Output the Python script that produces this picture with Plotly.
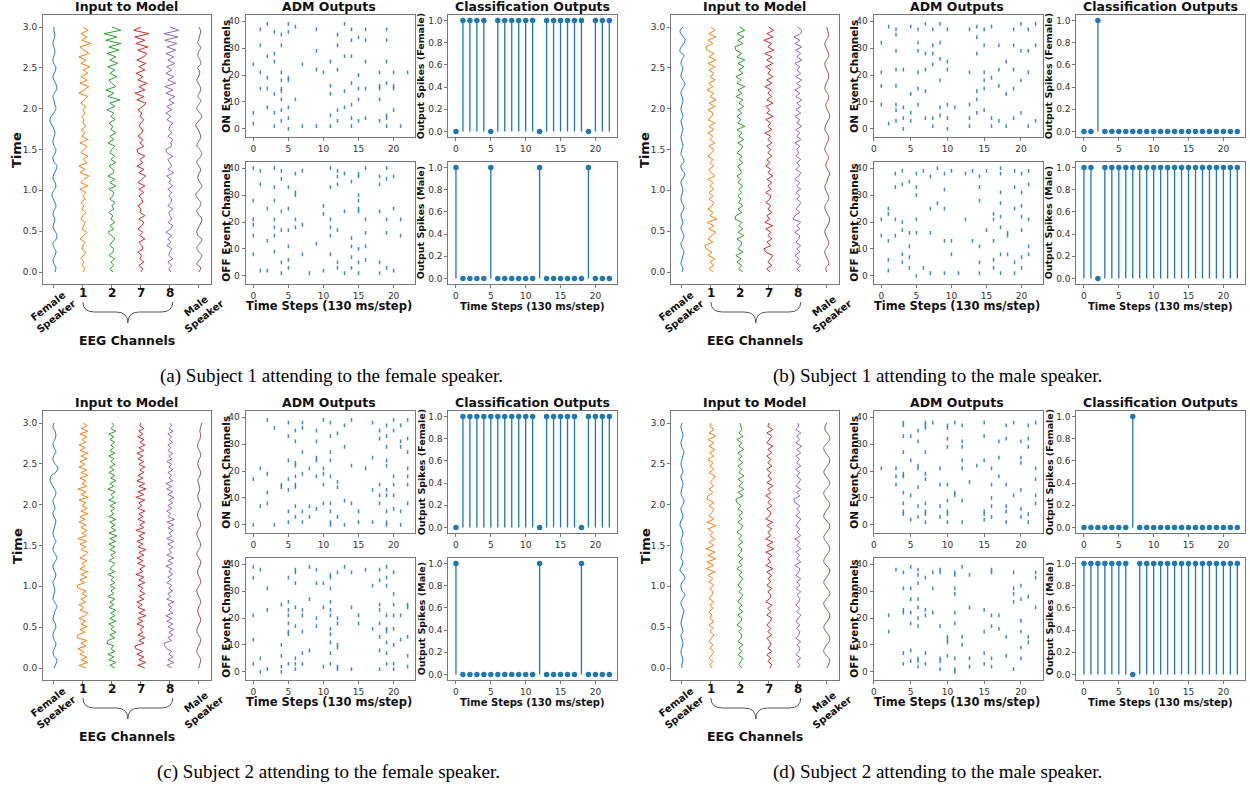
import numpy as np
import plotly.graph_objects as go

W, H = 1250, 788

# ---------------- DATA ----------------
# Input to model: horizontal deflection of each trace (pixels), evenly sampled over 0..3 s
input_labels = ["Female<br>Speaker", "1", "2", "7", "8", "Male<br>Speaker"]
input_colors = ["#1f77b4", "#ff7f0e", "#2ca02c", "#d62728", "#9467bd", "#8c564b"]

a_female = [1,2,0,-1,1,2,0,-1,2,3,1,-1,0,1,-1,0,2,1,-1,-2,0,2,1,-1,0,2,3,0,-1,1,2,0,-1,0,1,0,-2,-4,-3,0,2,1,0,-1,1,3,2,0,-1,1,2,0,-1,0,1,0,-1,0,1,0,0]
a_ch1 = [0,2,-1,1,-2,1,3,-1,0,2,-3,1, 4,-1,1,2,-2,0,3,-1,1,-2,2,0, 3,-3,5,-2,1,6,-3,2,-4,4,0,5,-2,
         1,4,-3,5,-1,2,-2,3,0,1,-1,2, 0,3,-2,2,5,-4,1,6,-3,4,-2,5,0, 7,-2,3,-4,6,1,-3,8,-1,4,-2,5,0]
a_ch2 = [1,-2,2,-1,3,-3,1,2,-2,0,3,-1, -4,2,-2,3,-1,1,-3,2,0,3,-2,1, 2,-3,4,-2,3,-4,2,1,-3,4,-1,3,-2,
         0,3,-4,2,-2,4,-1,1,-3,3,-1,2, -5,3,-2,8,-4,2,-6,4,0,-3,5,-2,3, -4,6,-2,4,-5,7,-3,9,-6,5,-8,9,0]
a_ch7 = [0,2,-2,3,-1,1,-3,2,1,-2,4,-1, 2,-3,1,3,-2,4,-1,0,-3,2,1,-2, 3,-2,4,-3,1,5,-2,3,-4,2,-1,4,-3,
         -4,3,-1,2,-3,1,2,-2,0,3,-1,1, -3,2,5,-4,3,-6,4,-2,6,-3,2,-5,4, -2,5,-4,3,6,-3,7,-5,4,-6,8,-7,0]
a_ch8 = [1,-1,2,-2,3,-1,0,2,-3,1,-2,2, -4,1,3,-2,2,0,-1,3,-2,1,2,-1, 2,-2,3,-1,1,-3,4,-2,2,0,-2,3,-3,
         -4,2,1,3,-2,2,-1,0,3,-3,1,-4, 2,-3,4,-1,5,-4,3,-5,6,-2,4,-4,2, -3,5,-2,4,-4,6,-3,7,-5,8,-6,9,0]
a_male = [0,2,-2,1,3,0,-2,1,3,-1,-2,0,2,3,0,-2,1,2,-1,-3,0,3,1,-1,0,2,0,-2,1,3,1,-2,0,2,1,-1,-3,0,3,1,-2,0,2,-1,1,2,0,-2,0,1,-1,2,1,-1,0,2,-1,0,1,2,0]

b_female = [0,1,-1,0,1,2,0,-1,1,2,0,-1,1,0,-1,1,2,0,-1,0,1,0,-1,1,3,0,-1,2,1,-1,0,1,0,-1,0,1,0,-1,1,0,-1,0,1,0,-1,1,3,1,-1,0,1,-1,0,2,-2,-1,2,3,0,-2,1]
b_ch1 = [2,-2,3,-1,4,-3,1,-5,-6,2,-3,1, 5,-2,3,-4,6,-1,2,-3,1,3,-2,2, -2,3,-1,2,-3,4,0,-2,3,-1,2,-3,1,
         3,-2,4,-1,2,-3,3,-2,4,-3,1,2, -3,4,-2,5,-1,3,-4,2,-2,4,-1,3,-2, 4,-3,5,-2,3,-4,-5,2,-3,5,-2,4,0]
b_ch2 = [3,-1,2,-3,1,-4,3,-2,1,2,-3,4, -2,3,-1,2,-5,-4,2,-2,3,-1,1,-2, 2,-1,3,-2,1,-3,2,0,-2,3,-1,2,-3,
         1,3,-2,4,-1,2,-3,5,-2,1,-3,2, -2,4,-1,3,-4,2,-2,5,-3,1,-4,3,-1, 4,-2,5,-3,2,-4,-5,3,-2,4,-3,5,0]
b_ch7 = [1,-2,3,-1,2,4,-3,-5,2,-2,3,-1, 2,-3,4,-4,1,-2,3,-1,2,-3,1,2, -3,2,-1,3,-2,4,-1,2,-3,1,-2,3,-1,
         2,-2,3,-1,2,-4,3,-1,2,-3,4,-2, 1,-3,4,-2,3,-1,2,-4,3,-2,4,-1,2, -3,4,-2,3,-4,5,-1,3,-5,4,-2,5,0]
b_ch8 = [2,-1,3,-2,1,-3,2,-1,3,-2,1,2, -3,2,-1,3,-5,-3,2,-2,1,3,-1,2, -2,3,-1,2,-3,1,3,-2,2,-1,3,-2,1,
         -1,2,-3,3,-1,2,-2,4,-1,2,-3,3, -2,3,-1,4,-2,2,-3,3,-1,4,-2,3,-1, 2,-3,4,-1,3,-2,4,-3,2,-4,3,4,0]
b_male = [0,-1,2,1,-1,-2,0,2,1,-1,-2,0,2,3,1,-1,-2,0,2,1,-1,-2,0,1,3,1,-1,0,2,0,-2,-1,1,2,0,-2,-1,1,3,2,0,-1,1,2,0,-2,-1,1,2,1,-1,-2,0,2,1,-1,-2,0,2,1,0]

c_female = [0,2,3,0,-1,1,2,0,-1,0,2,1,-1,0,1,3,1,-1,0,1,0,-1,1,2,0,-1,1,3,1,-1,0,2,0,-1,0,1,2,0,-1,1,0,-1,1,2,0,-2,-4,-3,2,4,1,-1,0,2,0,-1,1,2,1,-1,0]
c_ch1 = [3,-4,5,-2,4,-3,1,-5,3,-2,4,-6,-5,2,-3, 4,-2,3,-4,2,5,-3,1,-4,3,-2,4,-1,3,-5,
         -6,2,-3,4,-2,5,-3,2,-1,4,-3,2,5,-2,3, -3,4,-5,3,-1,4,-2,3,-4,2,-3,5,-2,4,-1,
         3,-4,5,-2,3,-5,4,-1,3,-3,5,-2,4,-4,2, -3,4,-2,5,-3,2,-4,3,-1,4,-3,5,-2,4,0]
c_ch2 = [3,-2,4,-3,2,-4,3,-1,2,-5,-4,3,-2,4,-1, 2,-3,4,-2,3,-1,4,-3,2,-2,3,-4,2,-1,3,
         -2,3,-1,2,-4,3,-2,1,3,-3,2,-1,4,-2,3, -3,4,-2,5,-3,4,-1,3,-2,4,-3,2,-1,3,-2,
         4,-3,2,-1,3,-4,2,-2,4,-1,3,-3,2,-2,3, -1,2,-3,3,-2,2,-1,3,-2,2,-3,4,-1,2,0]
c_ch7 = [4,-3,5,-2,3,-4,2,-5,-6,3,-2,4,-3,2,-1, 3,-4,2,-3,5,-2,4,-3,1,-4,3,-2,4,-1,2,
         -3,4,-2,3,-5,2,-1,4,-3,2,-4,3,-2,5,-3, 2,-4,3,-2,4,-5,3,-1,4,-3,2,-2,4,-3,1,
         -2,4,-5,3,-3,5,-2,4,-4,2,-3,3,-1,4,-2, 3,-3,2,-4,3,-2,4,-1,3,-3,2,-2,3,-1,0]
c_ch8 = [2,-3,4,-2,3,-1,2,-3,-5,-6,2,-2,3,-1,4, -2,3,-3,2,-4,3,-1,2,-2,4,-3,1,-2,3,-1,
         2,-3,1,-2,3,-1,2,-4,3,-2,4,-3,2,-1,3, -2,4,-3,2,-1,3,-2,4,-3,5,-2,1,-3,2,-2,
         3,-1,4,-2,3,-3,2,-4,3,-1,2,-2,3,-1,2, -3,2,-1,3,-2,1,-2,3,-1,2,-2,3,-1,2,0]
c_male = [0,1,2,0,-2,-1,1,2,0,-2,-1,1,2,0,-1,0,2,1,-1,-2,0,2,1,-1,-1,1,2,0,-2,0,2,1,-1,-2,0,2,1,-1,-1,1,2,0,-1,0,1,0,-1,1,2,0,-1,0,2,1,-1,-1,1,2,1,2,3]

d_female = [0,0,1,0,-1,0,1,0,-1,1,0,-1,0,1,2,0,-1,1,3,0,-1,0,3,1,-2,0,1,-1,0,1,0,-1,0,1,0,-2,-1,1,0,-1,1,2,0,-1,0,1,0,-1,1,0,-1,0,1,2,0,-1,0,1,0,-1,0]
d_ch1 = [1,-1,2,-2,1,3,-1,2,-2,1,3,-1, 2,-2,3,-1,1,-2,2,-1,3,-2,1,2, -1,3,-2,2,-3,4,-5,3,-4,5,-3,4,-5,
         3,-2,4,-1,2,-3,5,-4,3,-2,1,3, -2,3,-4,-3,2,-2,3,-1,2,4,-2,3,-1, 2,-3,3,-1,4,-2,3,-3,5,-2,3,-1,0]
d_ch2 = [2,-1,1,3,-2,2,-1,3,-2,1,2,-1, 2,-3,1,2,-2,3,-1,2,-2,1,3,-1, 2,-2,1,3,-1,2,-3,2,-1,3,-2,1,2,
         -2,3,-1,2,-3,1,3,-2,2,-1,3,-2, 1,-3,-4,3,-2,4,-1,3,-2,4,-1,2,-2, 3,-1,2,-2,4,-1,2,-3,3,-1,2,1,0]
d_ch7 = [1,3,-1,2,-2,3,-1,2,1,-2,3,-1, 2,-2,1,3,-2,2,-1,3,-3,1,2,-1, 3,-2,2,-1,3,-2,4,-3,2,-1,3,-3,5,
         -2,4,-3,2,-1,3,-2,4,-3,1,2,-2, 3,-1,2,-3,2,-1,4,-2,3,-1,2,-2,3, -1,2,-2,3,-1,4,-2,1,3,-2,4,-1,0]
d_ch8 = [0,2,-1,3,-2,1,2,-1,3,-2,1,2, -1,2,-2,1,3,-1,2,-2,1,2,-1,3, -2,2,-1,3,-2,1,2,-3,3,-1,2,-2,3,
         -1,2,-3,3,-1,2,-2,1,3,-2,2,-1, 2,-3,-4,2,-1,3,-2,1,3,-1,2,-2,3, -1,2,-2,3,-1,4,-2,2,-1,3,-2,1,0]
d_male = [0,2,3,0,-3,-2,1,3,2,-1,-3,-1,2,3,1,-2,-3,0,3,2,-1,-3,-1,2,3,0,-3,-2,1,3,2,-1,-3,-1,2,3,0,-3,-2,1,3,1,-2,-3,0,3,2,-1,-3,-1,2,3,1,-2,-3,0,3,2,-1,-2,0]

# ADM outputs: {time step: [event channels]}
a_on = {0:[24,6,2], 1:[37,31,21,15], 2:[39,27,19,15,8], 3:[36,28,25,13,6,1], 4:[35,31,21,18,15,14,11,7,3],
        5:[39,36,19,18,8,4,0], 6:[38,11], 7:[24,1], 9:[37,29,22,1], 10:[21], 11:[25,16,13,5,1],
        12:[35,31,22,7,3], 13:[39,27,14,8], 14:[37,33,27,17,9,4,1], 15:[34,20,15,11,3], 16:[37,33,25,15,4],
        18:[21,16,15,11,3], 19:[37,33,25,17,5,4,1], 20:[21,16,15,7], 21:[1], 22:[21]}
a_off = {0:[40,28,21,19,15,8], 1:[39,34,2], 2:[25,13,2], 3:[40,33,28,21,18,15,9], 4:[39,36,24,17,5,1],
         5:[33,25,17,11,6,3], 6:[38,31,30,21,18], 7:[39,19,8], 8:[1], 9:[12], 10:[26,23,2],
         11:[40,33,21,18,15,8], 12:[39,37,34,17,5,3], 13:[38,24,1], 14:[35,14,11,7,3],
         15:[38,37,30,28,25,24,10,5,1], 16:[40,21,16,11,6], 18:[37,34,24,5,1], 19:[40,36,21,16,3],
         20:[37,25,2], 21:[21,15]}

b_on = {1:[32,21,16,9], 2:[38,2], 3:[37,35,29,22,16,9,7,3], 4:[22,8,4,0], 5:[38,13,6,3], 6:[37,32,29,21,15,9],
        7:[39,28,22,14,4], 8:[37,31,28,24,4,1], 9:[39,32,26,18,8,5], 10:[37,25,22,9,4,0], 11:[8],
        13:[37,21,9,4,1], 14:[38,34,28,14,11,6], 15:[37,31,21,18,15,7], 16:[38,19,4,1], 17:[31,22,16,3],
        18:[25,13,1], 19:[37,31,22,15,4], 20:[39,29,18,6], 21:[37,29,21,1], 22:[39,31,3]}
b_off = {0:[21,15], 1:[25,23,13,6,2], 2:[38,33,21,15], 3:[39,34,20,17,8,5], 4:[35,16,11,7,3],
         5:[38,33,30,21,16,0], 6:[39,3], 7:[37,25,16,1], 8:[40,27], 9:[38,32,25,13,1], 10:[39,13,8],
         11:[1], 12:[38,21], 13:[39,13], 14:[37,33,28,11,5,1], 15:[39,17], 16:[23,21,13,6,3],
         17:[40,38,31,27,22,18,8,1], 18:[16,15,8], 19:[39,33,25,5,1], 20:[38,31,26,22,17,7,3],
         21:[39,34,21,11,8]}

c_on = {0:[17,0], 1:[21,7], 2:[39,19,12,8], 3:[36,0], 4:[15,14], 5:[38,33,24,17,13,5,1],
        6:[35,31,23,22,18,15,14,7,3], 7:[38,36,27,19,5,1], 8:[21,7,3], 9:[35,31,25,24,18,6],
        10:[39,21,19,15,8], 11:[38,33,27,24,18,8,5,1,0], 12:[34,16,14,3], 13:[37,29,9,0], 14:[39,22,8],
        15:[5,1], 16:[21], 17:[38,25,13,1], 18:[35,32,15,11,8], 19:[37,33,29,24,22,13,11,5,1,0],
        20:[39,35,18,15,11,6], 21:[37,31,29,5,0], 22:[39,32,27,21,18,15,8]}
c_off = {0:[39,35,21,12,3], 1:[38,5,0], 2:[31,23,1], 4:[25,10,6,2,0], 5:[35,26,23,21,18,15,14,3],
         6:[38,37,33,24,17,5,3,1], 7:[23,21,15,7,3], 8:[39,27,8], 9:[38,33,20,17], 10:[33,24,2],
         11:[36,35,31,26,23,21,16,14,11,7,3], 12:[37,20,18,10,9,2,1], 13:[39], 14:[37,24,1], 15:[21,18],
         16:[38], 17:[32,16], 18:[38,34,25,23,18,13,8,1], 19:[39,35,32,21,16,15,11,7,3],
         20:[37,29,25,21,16,10,3,1], 21:[21,12], 22:[25,24,13,6,2]}

d_on = {1:[21], 3:[21,18,15], 4:[38,37,33,27,19,18,12,8,5,4], 5:[33,24,11,2], 6:[35,31,22,21,14,7,3],
        7:[38,37,36,27,19,17,8,5,4,1], 8:[38], 9:[21,15,7,3], 10:[37,36,32,29,15,9,5,4,1], 11:[38,12,11],
        12:[37,31,29,24,21,9,1], 13:[16], 14:[22], 15:[38,33,24,5,4,2], 16:[21,15,10,7,3],
        17:[31,25,18], 18:[37,32,15,7,5,1], 19:[38,11], 20:[31,25,23,13,6,3], 21:[37,32,29,4,1],
        22:[38,21,17,11,8]}
d_off = {2:[21,15], 3:[38], 4:[37,31,23,22,7,3], 5:[39,31,27,22,18,8,4], 6:[38,36,33,27,24,20,17,5,4,2],
         7:[35,23,21,7,3], 8:[37,31,22], 9:[38,37,17,5,4,1], 10:[13,12,11,6], 11:[37,36,31,29,22,18,5,1,0],
         12:[39,13,10], 13:[36,24,5,2], 15:[23,15,7,3], 16:[38,37,21,17,5,2], 17:[21,16], 18:[13,6],
         19:[37,31,29,26,1], 20:[32,27,19,15,9,5], 21:[28,13,11], 22:[37,35,24]}

# Classification outputs (time steps 0..22)
steps = list(range(23))
a_fem_out = [0,1,1,1,1,0,1,1,1,1,1,1,0,1,1,1,1,1,1,0,1,1,1]
a_mal_out = [1,0,0,0,0,1,0,0,0,0,0,0,1,0,0,0,0,0,0,1,0,0,0]
b_fem_out = [0,0,1,0,0,0,0,0,0,0,0,0,0,0,0,0,0,0,0,0,0,0,0]
b_mal_out = [1,1,0,1,1,1,1,1,1,1,1,1,1,1,1,1,1,1,1,1,1,1,1]
c_fem_out = [0,1,1,1,1,1,1,1,1,1,1,1,0,1,1,1,1,1,0,1,1,1,1]
c_mal_out = [1,0,0,0,0,0,0,0,0,0,0,0,1,0,0,0,0,0,1,0,0,0,0]
d_fem_out = [0,0,0,0,0,0,0,1,0,0,0,0,0,0,0,0,0,0,0,0,0,0,0]
d_mal_out = [1,1,1,1,1,1,1,0,1,1,1,1,1,1,1,1,1,1,1,1,1,1,1]

captions = ["(a) Subject 1 attending to the female speaker.",
            "(b) Subject 1 attending to the male speaker.",
            "(c) Subject 2 attending to the female speaker.",
            "(d) Subject 2 attending to the male speaker."]

# ---------------- STYLE / LAYOUT ----------------
FRAME = "#777777"
TICKFONT = dict(family="DejaVu Sans", size=9, color="#333333")
BLUE = "#1f77b4"
PX_PER_CAT = 29.0

panels = [
    dict(dx=0, dy=0, inputs=[a_female, a_ch1, a_ch2, a_ch7, a_ch8, a_male], on=a_on, off=a_off,
         on_rng=[-1.1, 23.1], off_rng=[-1.1, 23.1], fem=a_fem_out, mal=a_mal_out, cap=captions[0], capx=330),
    dict(dx=629, dy=0, inputs=[b_female, b_ch1, b_ch2, b_ch7, b_ch8, b_male], on=b_on, off=b_off,
         on_rng=[-0.05, 23.05], off_rng=[-1.1, 23.1], fem=b_fem_out, mal=b_mal_out, cap=captions[1], capx=937),
    dict(dx=0, dy=396, inputs=[c_female, c_ch1, c_ch2, c_ch7, c_ch8, c_male], on=c_on, off=c_off,
         on_rng=[-1.1, 23.1], off_rng=[-1.1, 23.1], fem=c_fem_out, mal=c_mal_out, cap=captions[2], capx=327),
    dict(dx=629, dy=396, inputs=[d_female, d_ch1, d_ch2, d_ch7, d_ch8, d_male], on=d_on, off=d_off,
         on_rng=[-0.05, 23.05], off_rng=[-0.05, 23.05], fem=d_fem_out, mal=d_mal_out, cap=captions[3], capx=937),
]

layout = dict(width=W, height=H, autosize=False, margin=dict(l=0, r=0, t=0, b=0),
              paper_bgcolor="white", plot_bgcolor="white", showlegend=False,
              annotations=[], shapes=[])
traces = []
counter = [0]


def add_axes(box, xr, yr, xt, yt, xtt, ytt, xlabels=True):
    counter[0] += 1
    n = counter[0]
    x0, y0, x1, y1 = box
    sx = "" if n == 1 else str(n)
    common = dict(showline=True, mirror=True, linecolor=FRAME, linewidth=1, ticks="outside",
                  ticklen=3, tickwidth=1, tickcolor=FRAME, showgrid=False, zeroline=False,
                  tickfont=TICKFONT, tickmode="array", fixedrange=True)
    layout["xaxis" + sx] = dict(common, domain=[x0 / W, x1 / W], range=xr, tickvals=xt,
                                ticktext=xtt, anchor="y" + sx, showticklabels=xlabels)
    layout["yaxis" + sx] = dict(common, domain=[1 - y1 / H, 1 - y0 / H], range=yr, tickvals=yt,
                                ticktext=ytt, anchor="x" + sx)
    return "x" + sx, "y" + sx


def ann(text, px, py, size, bold=True, angle=0, family="DejaVu Sans", color="#111111"):
    layout["annotations"].append(dict(
        text=f"<b>{text}</b>" if bold else text, x=px / W, y=1 - py / H, xref="paper", yref="paper",
        showarrow=False, xanchor="center", yanchor="middle", textangle=angle,
        font=dict(family=family, size=size, color=color)))


time_ticks = [0, 0.5, 1.0, 1.5, 2.0, 2.5, 3.0]
ch_ticks = [0, 10, 20, 30, 40]
step_ticks = [0, 5, 10, 15, 20]
spike_ticks = [0, 0.2, 0.4, 0.6, 0.8, 1.0]

for p in panels:
    dx, dy = p["dx"], p["dy"]
    # ---- Input to Model ----
    xa, ya = add_axes((41 + dx, 15 + dy, 209 + dx, 284 + dy), [-0.38, 5.41], [-0.147, 3.147],
                      list(range(6)), time_ticks, [""] * 6, [f"{v:.1f}" for v in time_ticks], xlabels=False)
    for i, vals in enumerate(p["inputs"]):
        v = np.array(vals, dtype=float)
        t = np.linspace(0, 3, len(v))
        smooth = i in (0, 5)
        traces.append(go.Scatter(x=i + v / PX_PER_CAT, y=t, mode="lines", xaxis=xa, yaxis=ya,
                                 line=dict(color=input_colors[i], width=1,
                                           shape="spline" if smooth else "linear"),
                                 hoverinfo="skip"))
    for i, lab in enumerate(input_labels):
        if i in (0, 5):
            layout["annotations"].append(dict(
                text=f"<b>{lab}</b>", x=i + (0.05 if i == 5 else -0.05), xref=xa, y=1 - (311 + dy) / H,
                yref="paper", showarrow=False, textangle=-38, xanchor="center", yanchor="middle",
                font=dict(family="DejaVu Sans", size=10, color="#111111")))
        else:
            layout["annotations"].append(dict(
                text=f"<b>{lab}</b>", x=i, xref=xa, y=1 - (293 + dy) / H, yref="paper",
                showarrow=False, xanchor="center", yanchor="middle",
                font=dict(family="DejaVu Sans", size=12, color="#111111")))
    # curly brace under EEG channels
    x1b, x2b = 1.0, 4.1
    xm = (x1b + x2b) / 2
    q = 0.4
    Y0, Y1, Y2 = [1 - (v + dy) / H for v in (302, 312, 323)]
    path = (f"M {x1b},{Y0} Q {x1b},{Y1} {x1b + q},{Y1} L {xm - q},{Y1} Q {xm},{Y1} {xm},{Y2} "
            f"Q {xm},{Y1} {xm + q},{Y1} L {x2b - q},{Y1} Q {x2b},{Y1} {x2b},{Y0}")
    layout["shapes"].append(dict(type="path", path=path, xref=xa, yref="paper",
                                 line=dict(color="#555555", width=1)))
    ann("Input to Model", 125 + dx, 7 + dy, 12.5)
    ann("Time", 15 + dx, 150 + dy, 13, angle=-90)
    ann("EEG Channels", 125 + dx, 340 + dy, 12.5)

    # ---- ADM Outputs ----
    for key, rng, box, lab, ly in (("on", p["on_rng"], (244, 15, 414, 137), "ON Event Channels", 76),
                                   ("off", p["off_rng"], (244, 162, 414, 284), "OFF Event Channels", 223)):
        b = (box[0] + dx, box[1] + dy, box[2] + dx, box[3] + dy)
        xa, ya = add_axes(b, rng, [-3.0, 42.3], step_ticks, ch_ticks,
                          [str(v) for v in step_ticks], [str(v) for v in ch_ticks])
        ex, ey = [], []
        for tstep, chans in p[key].items():
            for c in chans:
                ex += [tstep, tstep, None]
                ey += [c - 0.7, c + 0.7, None]
        traces.append(go.Scatter(x=ex, y=ey, mode="lines", xaxis=xa, yaxis=ya,
                                 line=dict(color="rgba(31,119,180,0.85)", width=1.5), hoverinfo="skip"))
        ann(lab, 224 + dx, ly + dy, 10.5, angle=-90)
    ann("ADM Outputs", 328 + dx, 7 + dy, 12.5)
    ann("Time Steps (130 ms/step)", 328 + dx, 306 + dy, 11.5)

    # ---- Classification Outputs ----
    for key, box, lab, ly in (("fem", (447, 15, 616, 137), "Output Spikes (Female)", 76),
                              ("mal", (447, 162, 616, 284), "Output Spikes (Male)", 223)):
        b = (box[0] + dx, box[1] + dy, box[2] + dx, box[3] + dy)
        xa, ya = add_axes(b, [-1.1, 23.1], [-0.05, 1.05], step_ticks, spike_ticks,
                          [str(v) for v in step_ticks], [f"{v:.1f}" for v in spike_ticks])
        vals = p[key]
        sx, sy = [], []
        for tstep, v in zip(steps, vals):
            sx += [tstep, tstep, None]
            sy += [0, v, None]
        traces.append(go.Scatter(x=sx, y=sy, mode="lines", xaxis=xa, yaxis=ya,
                                 line=dict(color=BLUE, width=1.3), hoverinfo="skip"))
        traces.append(go.Scatter(x=steps, y=vals, mode="markers", xaxis=xa, yaxis=ya,
                                 marker=dict(color=BLUE, size=5.5), hoverinfo="skip"))
        ann(lab, 420 + dx, ly + dy, 9.5, angle=-90)
    ann("Classification Outputs", 531 + dx, 7 + dy, 12.5)
    ann("Time Steps (130 ms/step)", 531 + dx, 306 + dy, 10)

    # ---- caption ----
    ann(p["cap"], p["capx"], 376 + dy, 19, bold=False, family="Liberation Serif", color="#000000")

fig = go.Figure(data=traces, layout=layout)
fig.write_html("out.html", config={"displayModeBar": False},
               post_script="document.body.style.margin='0px';document.body.style.overflow='hidden';")
